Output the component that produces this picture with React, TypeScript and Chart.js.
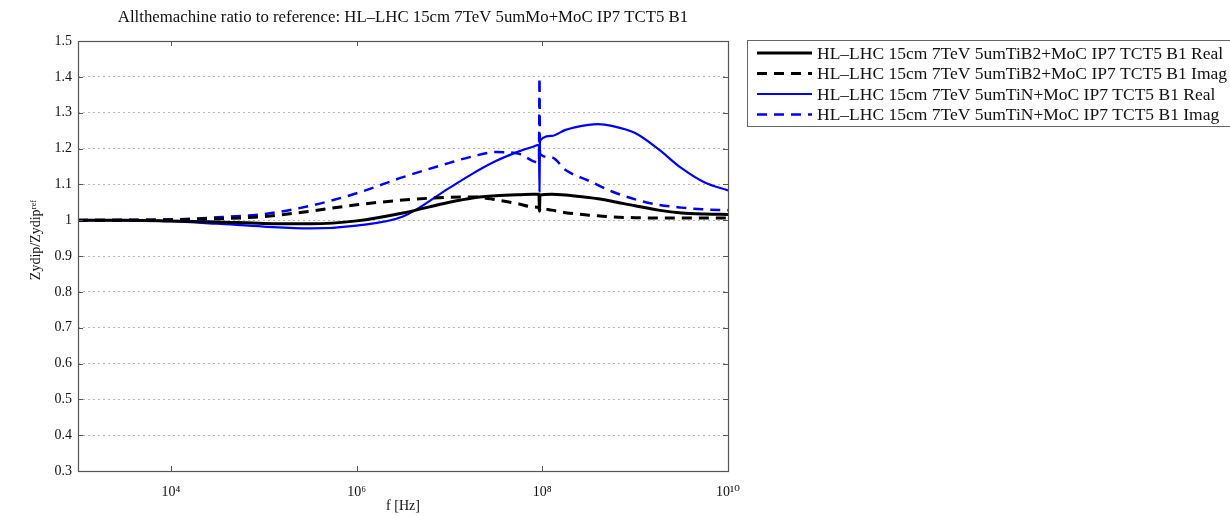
import React, { useEffect, useRef } from "react";
import { Chart, registerables } from "chart.js";

Chart.register(...registerables);

const TITLE = "Allthemachine ratio to reference: HL\u2013LHC 15cm 7TeV 5umMo+MoC IP7 TCT5 B1";
const X_TITLE = "f [Hz]";
const Y_TITLE = "Zydip/Zydip\u02B3\u1D49\u1DA0";

const FREQ = [
  1e3, 3.16e3, 1e4, 3.16e4, 1e5, 3.16e5, 1e6, 3.16e6, 1e7, 1.78e7, 3.16e7, 5.62e7, 7.94e7,
  9.2e7, 9.33e7, 9.44e7, 1.26e8, 1.78e8, 3.16e8, 3.98e8, 5.62e8, 1e9, 1.78e9, 3.16e9, 5.62e9, 1e10,
];

const TIB2_REAL = [
  1.0, 1.0, 0.998, 0.995, 0.991, 0.99, 0.998, 1.02, 1.05, 1.062, 1.068, 1.071, 1.072,
  1.072, 1.03, 1.07, 1.072, 1.07, 1.063, 1.06, 1.053, 1.04, 1.028, 1.02, 1.017, 1.016,
];
const TIB2_IMAG = [
  1.0, 1.0, 1.001, 1.004, 1.01, 1.025, 1.043, 1.056, 1.064, 1.065, 1.057, 1.045, 1.037,
  1.035, 1.025, 1.033, 1.028, 1.021, 1.014, 1.012, 1.009, 1.007, 1.006, 1.006, 1.006, 1.006,
];
const TIN_REAL = [
  1.0, 0.999, 0.997, 0.99, 0.982, 0.977, 0.985, 1.01, 1.09, 1.13, 1.165, 1.192, 1.205,
  1.21, 1.08, 1.222, 1.235, 1.252, 1.266, 1.268, 1.263, 1.243, 1.198, 1.145, 1.105, 1.083,
];
const TIN_IMAG = [
  1.0, 1.001, 1.002, 1.008, 1.017, 1.04, 1.075, 1.12, 1.16, 1.178, 1.19, 1.185, 1.165,
  1.16, 1.397, 1.185, 1.175, 1.14, 1.11, 1.098, 1.08, 1.058, 1.043, 1.035, 1.03, 1.028,
];

const SERIES_LABELS = [
  "HL\u2013LHC 15cm 7TeV 5umTiB2+MoC IP7 TCT5 B1 Real",
  "HL\u2013LHC 15cm 7TeV 5umTiB2+MoC IP7 TCT5 B1 Imag",
  "HL\u2013LHC 15cm 7TeV 5umTiN+MoC IP7 TCT5 B1 Real",
  "HL\u2013LHC 15cm 7TeV 5umTiN+MoC IP7 TCT5 B1 Imag",
];
const SERIES_COLORS = ["#000000", "#000000", "#0000ff", "#0000ff"];

const X_TICKS = [1e4, 1e6, 1e8, 1e10];
const X_TICK_LABELS = ["10\u2074", "10\u2076", "10\u2078", "10\u00B9\u2070"];

const SERIF = "'Liberation Serif', 'DejaVu Serif', serif";

const overlayPlugin = {
  id: "overlay",
  afterDraw(chart: any) {
    const { ctx, chartArea } = chart;
    const { left, right, top, bottom } = chartArea;
    ctx.save();
    // box
    ctx.strokeStyle = "#555";
    ctx.lineWidth = 1.2;
    ctx.strokeRect(left + 0.5, top + 0.5, right - left, bottom - top);
    // inner tick marks
    ctx.lineWidth = 1;
    const ys = chart.scales.y;
    ys.ticks.forEach((t: any) => {
      const py = Math.round(ys.getPixelForValue(t.value)) + 0.5;
      ctx.beginPath();
      ctx.moveTo(left, py);
      ctx.lineTo(left + 5, py);
      ctx.moveTo(right - 5, py);
      ctx.lineTo(right, py);
      ctx.stroke();
    });
    const xs = chart.scales.x;
    X_TICKS.forEach((v) => {
      const px = Math.round(xs.getPixelForValue(v)) + 0.5;
      ctx.beginPath();
      ctx.moveTo(px, bottom);
      ctx.lineTo(px, bottom - 5);
      ctx.moveTo(px, top);
      ctx.lineTo(px, top + 5);
      ctx.stroke();
    });
    // title
    ctx.fillStyle = "#111";
    ctx.font = `16.8px ${SERIF}`;
    ctx.textAlign = "center";
    ctx.textBaseline = "middle";
    ctx.fillText(TITLE, (left + right) / 2, 18);

    // y title
    ctx.save();
    ctx.translate(36, 240);
    ctx.rotate(-Math.PI / 2);
    ctx.font = `14px ${SERIF}`;
    ctx.fillText(Y_TITLE, 0, 0);
    ctx.restore();

    // legend
    const lx = 747;
    const ly = 40;
    ctx.strokeStyle = "#666";
    ctx.lineWidth = 1;
    ctx.fillStyle = "#fff";
    ctx.fillRect(lx + 0.5, ly + 0.5, 600, 86);
    ctx.strokeRect(lx + 0.5, ly + 0.5, 600, 86);
    chart.data.datasets.forEach((ds: any, i: number) => {
      const ry = ly + 13 + i * 20.5;
      ctx.strokeStyle = ds.borderColor;
      ctx.lineWidth = ds.borderWidth;
      ctx.setLineDash(ds.borderDash || []);
      ctx.beginPath();
      ctx.moveTo(757, ry);
      ctx.lineTo(812, ry);
      ctx.stroke();
      ctx.setLineDash([]);
      ctx.fillStyle = "#111";
      ctx.font = `17.5px ${SERIF}`;
      ctx.textAlign = "left";
      ctx.textBaseline = "middle";
      ctx.fillText(ds.label, 817, ry + 1);
    });
    ctx.restore();
  },
};

export default function App() {
  const ref = useRef<HTMLCanvasElement | null>(null);
  useEffect(() => {
    if (!ref.current) return;
    const mk = (vals: number[]) => FREQ.map((f, i) => ({ x: f, y: vals[i] }));
    const chart = new Chart(ref.current, {
      type: "line",
      data: {
        datasets: [
          { label: SERIES_LABELS[0], data: mk(TIB2_REAL), borderColor: SERIES_COLORS[0], borderWidth: 3 },
          { label: SERIES_LABELS[1], data: mk(TIB2_IMAG), borderColor: SERIES_COLORS[1], borderWidth: 3, borderDash: [10, 7] },
          { label: SERIES_LABELS[2], data: mk(TIN_REAL), borderColor: SERIES_COLORS[2], borderWidth: 2.2 },
          { label: SERIES_LABELS[3], data: mk(TIN_IMAG), borderColor: SERIES_COLORS[3], borderWidth: 2.5, borderDash: [10, 7] },
        ].map((d) => ({ ...d, pointRadius: 0, fill: false, cubicInterpolationMode: "monotone" as const })),
      },
      options: {
        animation: false,
        responsive: false,
        layout: { padding: { top: 41, right: 502, left: 0, bottom: 0 } },
        plugins: { legend: { display: false }, title: { display: false }, tooltip: { enabled: false } },
        scales: {
          x: {
            type: "logarithmic",
            min: 1e3,
            max: 1e10,
            afterBuildTicks: (s: any) => {
              s.ticks = X_TICKS.map((v) => ({ value: v, major: true }));
            },
            afterFit: (s: any) => {
              s.height = 46;
            },
            ticks: {
              autoSkip: false,
              maxRotation: 0,
              padding: 13,
              color: "#111",
              font: { family: SERIF, size: 14 },
              callback: (v: any) => {
                const i = X_TICKS.indexOf(Number(v));
                return i >= 0 ? X_TICK_LABELS[i] : "";
              },
            },
            grid: { display: false, drawTicks: false },
            border: { display: false },
            title: {
              display: true,
              text: X_TITLE,
              color: "#111",
              font: { family: SERIF, size: 14 },
              padding: { top: 0, bottom: 2 },
            },
          },
          y: {
            type: "linear",
            min: 0.3,
            max: 1.5,
            afterFit: (s: any) => {
              s.width = 78;
            },
            ticks: {
              stepSize: 0.1,
              padding: 6,
              color: "#111",
              font: { family: SERIF, size: 14 },
              callback: (v: any) => String(Number(Number(v).toFixed(1))),
            },
            grid: { color: "#b8b8b8", lineWidth: 1, drawTicks: false },
            border: { display: false, dash: [2, 3] },
            title: { display: false },
          },
        },
      },
      plugins: [overlayPlugin],
    } as any);
    return () => chart.destroy();
  }, []);
  return (
    <div style={{ position: "absolute", left: 0, top: 0, width: 1230, height: 517, background: "#fff" }}>
      <canvas ref={ref} width={1230} height={517} />
    </div>
  );
}
